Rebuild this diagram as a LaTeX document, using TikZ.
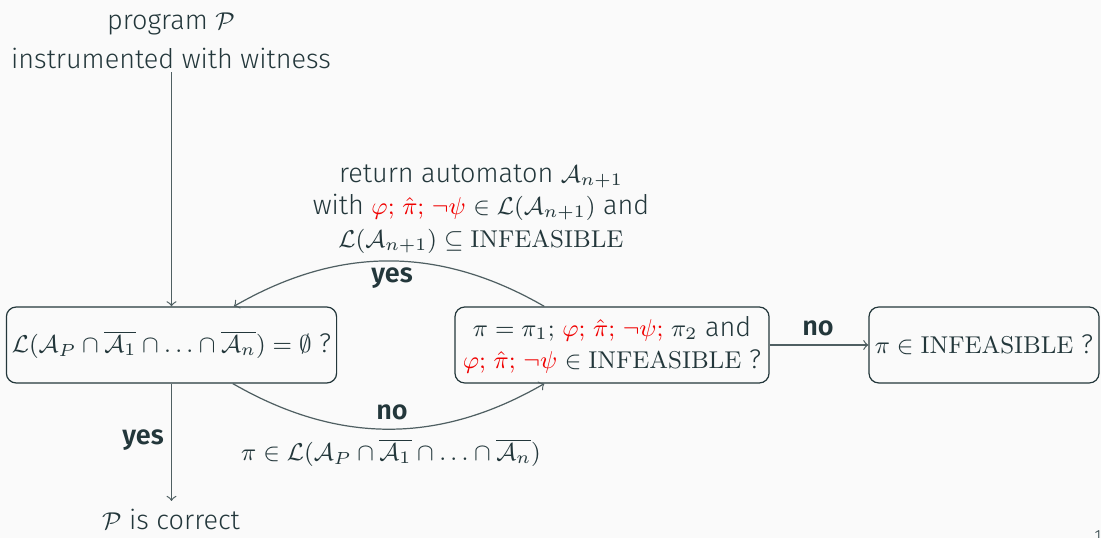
\documentclass[tikz,border=0pt]{standalone}
\usepackage{fix-cm}
\usepackage[no-math]{fontspec}
\setmainfont{Fira Sans}[UprightFont=* Light, BoldFont=* SemiBold]
\DeclareMathSizes{10}{9}{6.5}{5}
\usetikzlibrary{calc}
\definecolor{fg}{HTML}{23373B}
\definecolor{bg}{HTML}{FAFAFA}
\definecolor{hl}{HTML}{F00000}
\begin{document}
\begin{tikzpicture}[x=0.37pt,y=-0.37pt,
  font=\fontsize{10}{12}\selectfont, text=fg,
  box/.style={draw=fg, line width=0.45pt, rounded corners=3.6pt, minimum height=28.1pt, inner sep=2pt, align=center},
  conn/.style={draw=fg!80, line width=0.45pt, ->},
  lbl/.style={font=\fontsize{10}{12}\selectfont\bfseries, inner sep=0pt}]
\fill[bg] (0,0) rectangle (1101,538);
\useasboundingbox (0,0) rectangle (1101,538);

\node[align=center, inner sep=1pt] (top) at (171,41) {program $\mathcal{P}$\\[2.4pt] instrumented with witness};
\node[box, minimum width=119.5pt] (b1) at (171.5,345) {$\mathcal{L}(\mathcal{A}_P \cap \overline{\mathcal{A}_1} \cap \ldots \cap \overline{\mathcal{A}_n}) = \emptyset$ ?};
\node[box, minimum width=116.2pt] (b2) at (612,345) {$\pi = \pi_1;$ {\color{hl}$\varphi;$ $\hat{\pi};$ $\neg\psi;$} $\pi_2$ and\\ {\color{hl}$\varphi;$ $\hat{\pi};$ $\neg\psi$} $\in \mathrm{INFEASIBLE}$ ?};
\node[box, minimum width=85.1pt] (b3) at (984,345) {$\pi \in \mathrm{INFEASIBLE}$ ?};
\node[anchor=base, inner sep=3pt] (ok) at (171,530) {$\mathcal{P}$ is correct};

\node[align=center, inner sep=0pt] (ret) at (481,209) {return automaton $\mathcal{A}_{n+1}$\\ with {\color{hl}$\varphi;$ $\hat{\pi};$ $\neg\psi$} $\in \mathcal{L}(\mathcal{A}_{n+1})$ and\\ $\mathcal{L}(\mathcal{A}_{n+1}) \subseteq \mathrm{INFEASIBLE}$};
\node[inner sep=0pt] (cex) at (391,453) {$\pi \in \mathcal{L}(\mathcal{A}_P \cap \overline{\mathcal{A}_1} \cap \ldots \cap \overline{\mathcal{A}_n})$};

\node[lbl] (yes1) at (392,278) {yes};
\node[lbl] (no1) at (392,412) {no};
\node[lbl] (yes2) at (143,440) {yes};
\node[lbl] (no2) at (818,328) {no};
\node[anchor=north west, inner sep=0pt, font=\fontsize{6}{7}\selectfont] (pg) at (1094,530) {1};

\draw[conn] (top.south -| b1.north) -- (b1.north);
\draw[conn] (b1.south) -- (ok.north -| b1.south);
\draw[conn] (b2.east) -- (b3.west);
\draw[conn] ($(b2.north west)+(90,0)$) to[out=150,in=30] ($(b1.north west)+(228,0)$);
\draw[conn] ($(b1.south west)+(227,0)$) to[out=-30,in=-150] ($(b2.south west)+(90,0)$);
\end{tikzpicture}
\end{document}
